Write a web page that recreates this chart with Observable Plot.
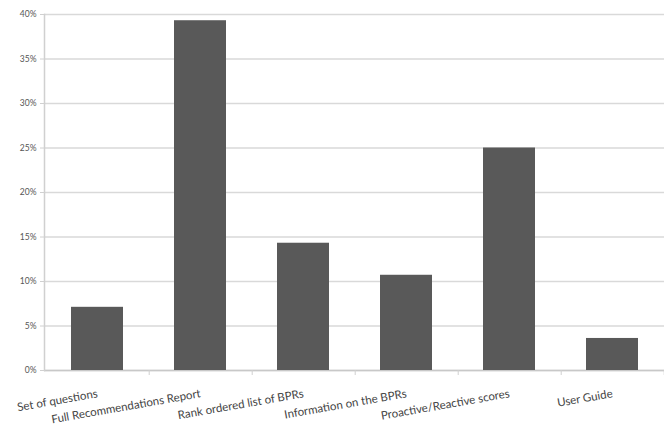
<!DOCTYPE html>
<html>
<head>
<meta charset="utf-8">
<script src="https://cdn.jsdelivr.net/npm/d3@7"></script>
<script src="https://cdn.jsdelivr.net/npm/@observablehq/plot@0.6"></script>
<style>
  html, body { margin: 0; padding: 0; background: #fff; }
  #chart svg { display: block; }
</style>
</head>
<body>
<div id="chart"></div>
<script>
const categories = [
  "Set of questions",
  "Full Recommendations Report",
  "Rank ordered list of BPRs",
  "Information on the BPRs",
  "Proactive/Reactive scores",
  "User Guide"
];
const shares = [0.071, 0.393, 0.143, 0.107, 0.25, 0.036];
const yTicks = [0, 0.05, 0.10, 0.15, 0.20, 0.25, 0.30, 0.35, 0.40];

const data = categories.map((c, i) => ({category: c, share: shares[i]}));

const chart = Plot.plot({
  width: 664,
  height: 427,
  marginLeft: 44,
  marginRight: 0,
  marginTop: 14,
  marginBottom: 57,
  style: {fontFamily: "Lato, 'Open Sans', sans-serif", background: "#fff"},
  x: {domain: categories, paddingInner: 0.5, paddingOuter: 0.25, align: 0.5},
  y: {domain: [0, 0.4]},
  marks: [
    Plot.gridY(yTicks, {stroke: "#d9d9d9", strokeOpacity: 1, strokeWidth: 1.5}),
    Plot.ruleY([0], {stroke: "#c8c8c8", strokeWidth: 1.5}),
    Plot.frame({anchor: "left", stroke: "#d0d0d0", strokeWidth: 1.5}),
    Plot.ruleX(categories, {x: d => d, dx: 51.7, y1: 0, y2: 0, insetBottom: -5, stroke: "#d0d0d0", strokeWidth: 1}),
    Plot.axisY({ticks: yTicks, tickFormat: d3.format(".0%"), tickSize: 4, tickPadding: 4, stroke: "#d0d0d0", color: "#555", fontSize: 8.5, label: null}),
    Plot.barY(data, {x: "category", y: "share", fill: "#595959"}),
    Plot.axisX({tickSize: 0, tickRotate: -10, tickPadding: 20, dy: 3, color: "#444", fontSize: 11.5, label: null})
  ]
});
document.getElementById("chart").appendChild(chart);
</script>
</body>
</html>
